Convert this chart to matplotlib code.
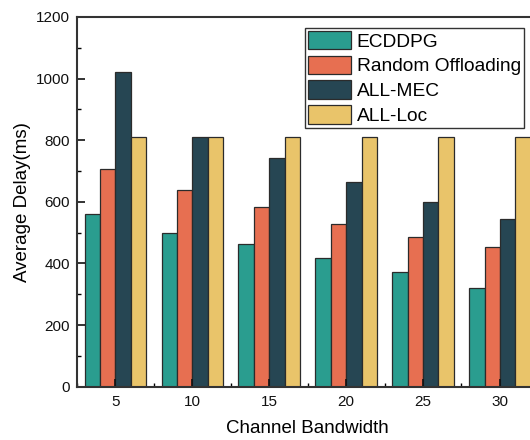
import numpy as np
import matplotlib
matplotlib.use("Agg")
import matplotlib.pyplot as plt
from matplotlib.ticker import MultipleLocator

plt.rcParams['font.family'] = ['Liberation Sans', 'DejaVu Sans']

bandwidth = [5, 10, 15, 20, 25, 30]
series_names = ["ECDDPG", "Random Offloading", "ALL-MEC", "ALL-Loc"]
ecddpg = [561, 498, 462, 417, 372, 320]
random_offloading = [707, 639, 583, 528, 485, 453]
all_mec = [1021, 809, 742, 665, 599, 543]
all_loc = [812, 812, 812, 812, 812, 812]
colors = ["#2a9d8f", "#e76f51", "#264653", "#e9c46a"]

fig = plt.figure(figsize=(5.3, 4.4), dpi=100)
ax = fig.add_axes([0.1453, 0.1211, 0.8705, 0.8403])

x = np.array(bandwidth, dtype=float)
bar_w = 1.0
offsets = [-1.5, -0.5, 0.5, 1.5]
for vals, name, col, off in zip([ecddpg, random_offloading, all_mec, all_loc],
                                series_names, colors, offsets):
    ax.bar(x + off * bar_w, vals, width=bar_w, color=col, label=name,
           edgecolor="#2b2b2b", linewidth=0.9)

ax.set_xlim(2.5, 32.5)
ax.set_ylim(0, 1200)
ax.set_xticks(bandwidth)
ax.xaxis.set_minor_locator(MultipleLocator(2.5))
ax.yaxis.set_major_locator(MultipleLocator(200))
ax.yaxis.set_minor_locator(MultipleLocator(100))

ax.tick_params(which='major', direction='in', length=6, width=1.2,
               labelsize=11, colors='#111111')
ax.tick_params(axis='x', which='major', pad=6)
ax.tick_params(axis='y', which='major', pad=5)
ax.tick_params(which='minor', direction='in', length=3, width=1.0)
ax.tick_params(axis='x', which='minor', bottom=True)

for s in ax.spines.values():
    s.set_linewidth(1.5)
    s.set_color('#333333')

ax.set_xlabel("Channel Bandwidth", fontsize=13.5, labelpad=8)
ax.set_ylabel("Average Delay(ms)", fontsize=13.5, labelpad=4)

leg = ax.legend(loc='upper right', bbox_to_anchor=(524 / 530, 1 - 28 / 440),
                bbox_transform=fig.transFigure, fontsize=13.8,
                handlelength=2.25, handleheight=1.1, handletextpad=0.3,
                labelspacing=0.26, borderpad=0.16, borderaxespad=0,
                fancybox=False, framealpha=1)
leg.get_frame().set_edgecolor('#333333')
leg.get_frame().set_linewidth(1.0)

fig.savefig("out.png", dpi=100)
